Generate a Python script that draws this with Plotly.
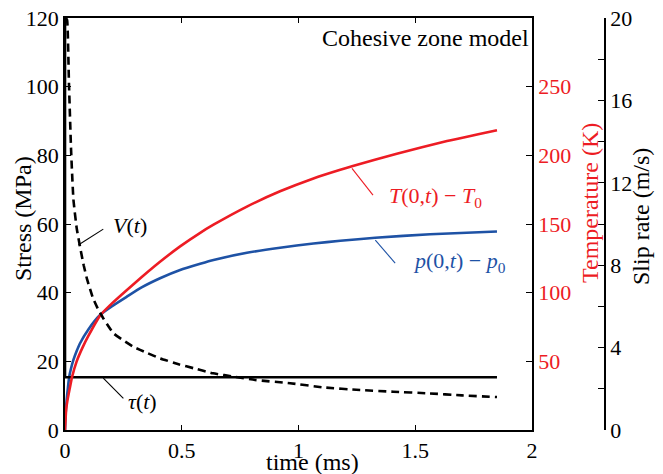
import plotly.graph_objects as go

# ---- data ----
tau_t = [0.0, 0.0, 1.85]
tau_v = [125.0, 15.35, 15.35]

v_t = [0.004, 0.009, 0.017, 0.026, 0.036, 0.05, 0.066, 0.08, 0.095, 0.12, 0.14, 0.165,
       0.207, 0.25, 0.293, 0.35, 0.407, 0.49, 0.55, 0.634, 0.73, 0.814, 0.964, 1.106,
       1.264, 1.406, 1.556, 1.70, 1.85]
v_v = [20.0, 19.9, 16.8, 13.6, 11.2, 9.8, 8.8, 8.0, 7.3, 6.4, 5.9, 5.4,
       4.7, 4.35, 4.04, 3.75, 3.48, 3.18, 3.0, 2.75, 2.58, 2.43, 2.27, 2.07,
       1.94, 1.86, 1.78, 1.68, 1.6]

temp_t = [0.0, 0.005, 0.01, 0.02, 0.03, 0.05, 0.075, 0.1, 0.15, 0.2, 0.264, 0.33, 0.407,
          0.493, 0.579, 0.636, 0.779, 0.921, 1.064, 1.179, 1.229, 1.421, 1.636, 1.85]
temp_v = [0.0, 15.0, 21.0, 30.0, 38.5, 50.0, 60.0, 68.5, 83.3, 92.0, 101.8, 111.6, 122.5,
          133.7, 143.6, 149.5, 162.7, 173.8, 183.2, 189.5, 192.0, 201.2, 210.4, 218.3]

p_t = [0.0, 0.003, 0.007, 0.012, 0.018, 0.026, 0.036, 0.05, 0.064, 0.1, 0.15, 0.2, 0.264,
       0.33, 0.407, 0.493, 0.579, 0.636, 0.779, 0.921, 1.064, 1.179, 1.329, 1.564, 1.85]
p_v = [0.0, 5.0, 8.7, 12.0, 15.5, 18.0, 20.4, 23.0, 25.2, 29.3, 33.5, 36.0, 38.8,
       41.6, 44.2, 46.6, 48.4, 49.5, 51.6, 53.1, 54.3, 55.1, 56.0, 57.0, 57.8]

x_ticks = [0, 0.5, 1, 1.5, 2]
x_ticktext = ["0", "0.5", "1", "1.5", "2"]
stress_ticks = [0, 20, 40, 60, 80, 100, 120]
temp_ticks = [50, 100, 150, 200, 250]
slip_ticks = [0, 2, 4, 6, 8, 10, 12, 14, 16, 18, 20]
slip_ticktext = ["0", "", "4", "", "8", "", "12", "", "16", "", "20"]

RED = "rgb(237,28,36)"
BLUE = "rgb(30,82,165)"
FONT = "Liberation Serif"
TICK_FS = 22
TITLE_FS = 24

fig = go.Figure()
fig.add_trace(go.Scatter(x=p_t, y=p_v, mode="lines",
                         line=dict(color=BLUE, width=2.6, shape="spline", smoothing=0.5),
                         yaxis="y", showlegend=False))
fig.add_trace(go.Scatter(x=temp_t, y=temp_v, mode="lines",
                         line=dict(color=RED, width=2.6, shape="spline", smoothing=0.5),
                         yaxis="y2", showlegend=False))
fig.add_trace(go.Scatter(x=v_t, y=v_v, mode="lines",
                         line=dict(color="black", width=2.6, dash="8px,5px",
                                   shape="spline", smoothing=0.4),
                         yaxis="y3", showlegend=False))
fig.add_trace(go.Scatter(x=tau_t, y=tau_v, mode="lines", line=dict(color="black", width=2.6),
                         yaxis="y", showlegend=False))

# the page body has an 8px margin: shrink the figure and shift margins to compensate
OFF = 8
W, H = 663 - OFF, 474 - OFF
L, R, T, B = 65 - OFF, 58, 18 - OFF, 44
plot_w = W - L - R
plot_h = H - T - B
xdom = (532 - OFF - L) / plot_w


def px(xs):
    return (xs - OFF - L) / plot_w


def py(ys):
    return (H - B - (ys - OFF)) / plot_h


common_axis = dict(showgrid=False, zeroline=False, showline=True, linecolor="black",
                   linewidth=1.5, tickcolor="black", automargin=False,
                   ticklabeloverflow="allow")

fig.update_layout(
    width=W, height=H,
    margin=dict(l=L, r=R, t=T, b=B, pad=0, autoexpand=False),
    paper_bgcolor="white", plot_bgcolor="white",
    font=dict(family=FONT, size=TICK_FS, color="black"),
    xaxis=dict(domain=[0, xdom], range=[0, 2], tickvals=x_ticks, ticktext=x_ticktext,
               ticks="inside", ticklen=5, mirror="ticks",
               tickfont=dict(size=TICK_FS), **common_axis),
    yaxis=dict(range=[0, 120], tickvals=stress_ticks, ticks="inside", ticklen=6,
               tickfont=dict(size=TICK_FS), **common_axis),
    yaxis2=dict(range=[0, 300], tickvals=temp_ticks, overlaying="y", side="right",
                anchor="x", ticks="inside", ticklen=6,
                tickfont=dict(size=TICK_FS, color=RED), **common_axis),
    yaxis3=dict(range=[0, 20], tickvals=slip_ticks, ticktext=slip_ticktext,
                overlaying="y", side="right", anchor="free", position=1.0,
                ticks="inside", ticklen=6, tickfont=dict(size=TICK_FS), **common_axis),
)

# axis titles
titles = [
    (px(23), py(219), "Stress (MPa)", "black", -90),
    (px(590), py(203), "Temperature (K)", RED, -90),
    (px(641), py(217), "Slip rate (m/s)", "black", -90),
    (px(312), py(462), "time (ms)", "black", 0),
]
for x, y, txt, c, ang in titles:
    fig.add_annotation(x=x, y=y, xref="paper", yref="paper", text=txt, showarrow=False,
                       textangle=ang, xanchor="center", yanchor="middle",
                       font=dict(family=FONT, size=TITLE_FS, color=c))

# pointer lines (data coords of the stress axis)
pointers = [
    (0.164, 58.5, 0.057, 53.9, "black"),
    (0.25, 9.2, 0.164, 15.1, "black"),
    (1.319, 68.4, 1.229, 76.2, RED),
    (1.414, 48.6, 1.329, 55.3, BLUE),
]
for x0, y0, x1, y1, c in pointers:
    fig.add_shape(type="line", xref="x", yref="y", x0=x0, y0=y0, x1=x1, y1=y1,
                  line=dict(color=c, width=1.1))

labels = [
    (0.28, 59.7, "<i>V</i>(<i>t</i>)", "black"),
    (0.33, 8.2, "<i>τ</i>(<i>t</i>)", "black"),
    (1.585, 67.9, "<i>T</i>(0,<i>t</i>) − <i>T</i><sub>0</sub>", RED),
    (1.69, 48.9, "<i>p</i>(0,<i>t</i>) − <i>p</i><sub>0</sub>", BLUE),
]
for x, y, txt, c in labels:
    fig.add_annotation(x=x, y=y, xref="x", yref="y", text=txt, showarrow=False,
                       font=dict(family=FONT, size=22, color=c))

fig.add_annotation(x=1.995, y=114.2, xref="x", yref="y", xanchor="right",
                   text="Cohesive zone model", showarrow=False,
                   font=dict(family=FONT, size=TITLE_FS, color="black"))

fig.write_html("out.html")
